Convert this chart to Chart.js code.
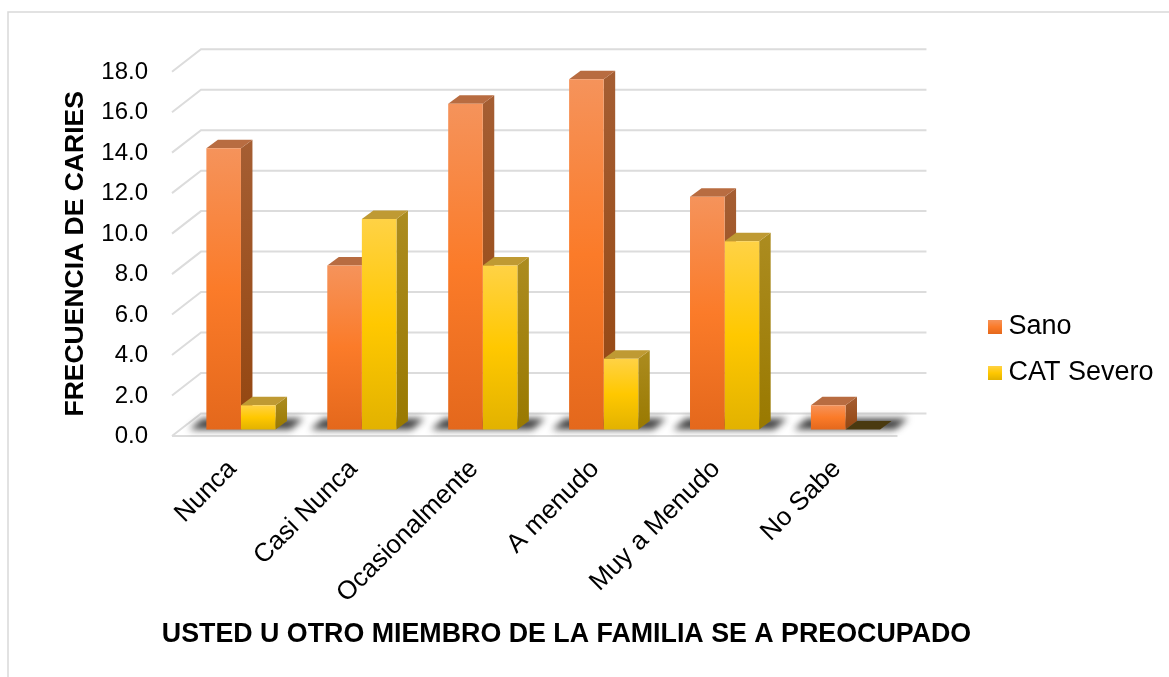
<!DOCTYPE html>
<html><head><meta charset="utf-8">
<style>html,body{margin:0;padding:0;background:#fff}canvas{display:block}</style>
<script src="https://cdn.jsdelivr.net/npm/chart.js@4"></script>
</head><body><canvas id="c" width="1169" height="677"></canvas>
<script>
const categories = ["Nunca","Casi Nunca","Ocasionalmente","A menudo","Muy a Menudo","No Sabe"];
const sano = [13.9,8.1,16.1,17.3,11.5,1.2];
const catSevero = [1.2,10.4,8.1,3.5,9.3,0];
const seriesNames = ["Sano","CAT Severo"];
const xTitle = "USTED U OTRO MIEMBRO DE LA FAMILIA SE A PREOCUPADO";
const yTitle = "FRECUENCIA DE CARIES";

const FONT = '"Liberation Sans", Arial, sans-serif';
const PAL = [
 {front:['#F5935B','#FB7B29','#E4681C'], side:['#A55E33','#944610'], top:'#B86C41', zero:'#7a4a20'},
 {front:['#FFD245','#FFC800','#E2B200'], side:['#AC8C20','#997900'], top:'#BF9A33', zero:'#4A3A10'}
];
const BX=8.5, BY=-6.5, DX=11.5, DY=-8.5, WX=29, WY=-22.5;

function grad(ctx,y0,y1,cols){
  const g=ctx.createLinearGradient(0,y0,0,y1);
  cols.forEach((c,i)=>g.addColorStop(i/(cols.length-1),c));
  return g;
}
function frontFill(i){
  return function(c){
    const ch=c.chart, s=ch.scales&&ch.scales.y;
    if(!s||!c.parsed) return PAL[i].front[1];
    const t=s.getPixelForValue(c.parsed.y), b=s.getPixelForValue(0);
    return grad(ch.ctx,t,b,PAL[i].front);
  };
}
function swatch(i){
  const cv=document.createElement('canvas'); cv.width=14; cv.height=14;
  const x=cv.getContext('2d'); x.fillStyle=grad(x,0,14,[PAL[i].front[0],PAL[i].front[1],PAL[i].front[2]]);
  x.fillRect(0,0,14,14); return cv;
}
const swatches=[swatch(0),swatch(1)];

function drawFaces(ch,i){
  const ctx=ch.ctx, pal=PAL[i], base=ch.scales.y.getPixelForValue(0);
  ch.getDatasetMeta(i).data.forEach((b,k)=>{
    const l=b.x-b.width/2, r=b.x+b.width/2, t=b.y;
    const v=ch.data.datasets[i].data[k];
    if(v>0){
      ctx.fillStyle=grad(ctx,t+DY,base,pal.side);
      ctx.beginPath(); ctx.moveTo(r,t); ctx.lineTo(r+DX,t+DY); ctx.lineTo(r+DX,base+DY); ctx.lineTo(r,base); ctx.closePath(); ctx.fill();
    }
    ctx.fillStyle=v>0?pal.top:pal.zero;
    ctx.beginPath(); ctx.moveTo(l,t); ctx.lineTo(l+DX,t+DY); ctx.lineTo(r+DX,t+DY); ctx.lineTo(r,t); ctx.closePath(); ctx.fill();
  });
}

const wallPlugin={
  id:'wall',
  beforeDatasetsDraw(ch){
    const ctx=ch.ctx, a=ch.chartArea, y=ch.scales.y;
    ctx.save();
    ctx.strokeStyle='#D9D9D9'; ctx.lineWidth=1.5;
    ctx.beginPath(); ctx.moveTo(8,677); ctx.lineTo(8,12); ctx.lineTo(1169,12); ctx.stroke();
    ctx.strokeStyle='#DCDCDC'; ctx.lineWidth=2;
    y.ticks.forEach(t=>{
      const p=y.getPixelForValue(t.value);
      ctx.beginPath(); ctx.moveTo(a.left,p); ctx.lineTo(a.left+WX,p+WY); ctx.lineTo(a.right+WX,p+WY); ctx.stroke();
    });
    ctx.beginPath(); ctx.moveTo(a.left,a.bottom); ctx.lineTo(a.right,a.bottom); ctx.stroke();
    const m0=ch.getDatasetMeta(0).data, m1=ch.getDatasetMeta(1).data;
    const base=y.getPixelForValue(0)+BY;
    ctx.filter='blur(3.5px)'; ctx.fillStyle='rgba(30,30,30,0.85)';
    m0.forEach((b,i)=>{
      const L=b.x-b.width/2+BX, R=m1[i].x+m1[i].width/2+BX;
      ctx.beginPath(); ctx.moveTo(L-17,base); ctx.lineTo(L-4,base-11); ctx.lineTo(R+28,base-11); ctx.lineTo(R+15,base); ctx.closePath(); ctx.fill();
    });
    ctx.restore();
    ctx.save(); ctx.translate(BX,BY);
    // Sano depth faces lie behind the CAT Severo bars, which are drawn next
    drawFaces(ch,0);
  },
  afterDatasetsDraw(ch){ ch.ctx.restore(); },
  beforeDatasetDraw(ch,args){
    if(args.index===1) drawFaces(ch,1);
  },
  afterLayout(ch){
    const lg=ch.legend, dx=975-lg.left;
    lg.left+=dx; lg.right+=dx;
    const mid=(lg.top+lg.bottom)/2, dy=350-mid;
    lg.top+=dy; lg.bottom+=dy;
  }
};

new Chart(document.getElementById('c'),{
  type:'bar',
  data:{labels:categories,datasets:[
    {label:seriesNames[0],data:sano,clip:false,backgroundColor:frontFill(0),borderWidth:0},
    {label:seriesNames[1],data:catSevero,clip:false,backgroundColor:frontFill(1),borderWidth:0}
  ]},
  plugins:[wallPlugin],
  options:{
    responsive:false,animation:false,
    datasets:{bar:{categoryPercentage:0.572,barPercentage:1}},
    layout:{autoPadding:false,padding:{left:60,right:83,top:71.7,bottom:26}},
    plugins:{
      tooltip:{enabled:false},
      legend:{position:'right',maxWidth:190,labels:{
        font:{family:FONT,size:27},color:'#000',padding:19,usePointStyle:true,boxWidth:1,
        generateLabels(){return seriesNames.map((n,i)=>({text:n,fillStyle:PAL[i].front[1],pointStyle:swatches[i],lineWidth:0,strokeStyle:'transparent',hidden:false,datasetIndex:i,fontColor:'#000'}));}
      }}
    },
    scales:{
      x:{
        grid:{display:false,drawTicks:false},border:{display:false},
        afterFit(s){
          s.height=677-436-26;
          if(!s._wideTitle){
            s._wideTitle=true;
            const orig=s.drawTitle;
            // the title is wider than the plot and sits right of its centre
            s.drawTitle=function(){
              const l=this.left,r=this.right;
              this.left=120;this.right=1013;
              orig.apply(this,arguments);
              this.left=l;this.right=r;
            };
          }
        },
        ticks:{autoSkip:false,minRotation:45,maxRotation:45,padding:18,labelOffset:0,color:'#000',font:{family:FONT,size:26}},
        title:{display:true,text:xTitle,color:'#000',font:{family:FONT,size:26.8,weight:'bold'},padding:0}
      },
      y:{
        min:0,max:18,
        grid:{display:false,drawTicks:false},border:{display:false},
        afterFit(s){s.width=112;},
        ticks:{stepSize:2,padding:24,labelOffset:0.5,color:'#000',font:{family:FONT,size:24},callback:v=>Number(v).toFixed(1)},
        title:{display:true,text:yTitle,color:'#000',font:{family:FONT,size:26.5,weight:'bold'},padding:0}
      }
    }
  }
});
</script></body></html>
